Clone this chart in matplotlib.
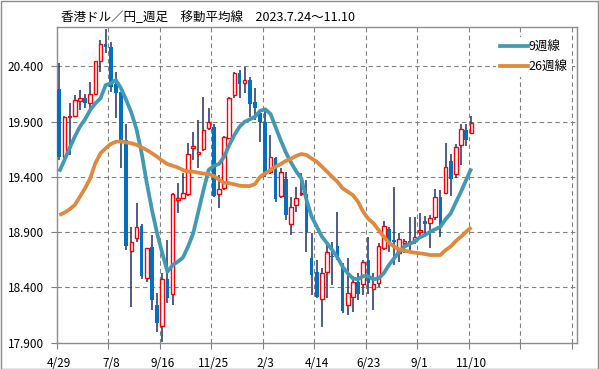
import numpy as np
import matplotlib
matplotlib.use("Agg")
import matplotlib.pyplot as plt
from matplotlib.lines import Line2D
from matplotlib.patches import Rectangle

plt.rcParams['font.family'] = ['Noto Sans CJK JP', 'DejaVu Sans']

#%% weekly candles, HKD/JPY
opens = [20.195, 19.577, 19.94, 19.953, 20.09, 20.11, 20.065, 20.15, 20.45, 20.602,
         20.577, 20.24, 20.17, 19.73, 18.727, 18.844, 18.955, 18.483, 18.763, 18.241,
         18.051, 18.48, 18.338, 19.19, 19.212, 19.245, 19.665, 19.604, 19.649, 19.839,
         19.854, 19.245, 19.297, 19.749, 20.14, 20.337, 20.246, 20.273, 20.077, 19.98,
         19.899, 19.441, 19.567, 19.227, 19.378, 18.974, 19.145, 19.245, 19.245, 18.663,
         18.542, 18.293, 18.537, 18.685, 18.775, 18.587, 18.238, 18.311, 18.446, 18.431,
         18.648, 18.383, 18.437, 18.757, 18.926, 18.83, 18.709, 18.805, 18.82, 18.817,
         18.899, 19.0, 18.98, 19.04, 19.22, 19.251, 19.543, 19.426, 19.688, 19.824,
         19.794]
highs = [20.43, 19.95, 20.065, 20.14, 20.19, 20.15, 20.26, 20.45, 20.638, 20.735,
         20.62, 20.35, 20.17, 19.875, 18.95, 19.16, 18.97, 18.76, 18.874, 18.347,
         18.528, 18.829, 19.25, 19.342, 19.432, 19.704, 19.809, 19.914, 20.125, 20.02,
         19.88, 19.42, 19.77, 20.12, 20.351, 20.367, 20.397, 20.306, 20.2, 20.0,
         20.005, 19.779, 19.58, 19.477, 19.447, 19.22, 19.311, 19.438, 19.372, 18.89,
         18.648, 18.573, 18.799, 18.814, 19.08, 18.62, 18.663, 18.5, 18.53, 18.648,
         18.853, 18.53, 18.8, 19.003, 18.95, 19.311, 18.89, 18.84, 19.04, 19.04,
         19.076, 19.05, 19.055, 19.287, 19.28, 19.704, 19.604, 19.70, 19.878, 19.878,
         19.95]
lows = [19.55, 19.57, 19.60, 19.95, 20.005, 20.02, 20.005, 20.14, 20.35, 20.518,
        20.17, 19.93, 19.477, 18.74, 18.225, 18.81, 18.48, 18.45, 18.196, 17.999,
        17.91, 18.256, 18.24, 19.07, 19.2, 19.226, 19.553, 19.477, 19.637, 19.824,
        19.22, 19.116, 19.28, 19.749, 20.11, 20.11, 20.156, 19.944, 19.914, 19.718,
        19.4, 19.43, 19.175, 19.21, 19.01, 18.874, 19.085, 19.226, 18.723, 18.331,
        18.30, 18.045, 18.30, 18.422, 18.65, 18.166, 18.151, 18.18, 18.29, 18.33,
        18.34, 18.196, 18.40, 18.74, 18.72, 18.602, 18.633, 18.71, 18.74, 18.79,
        18.84, 18.86, 18.754, 19.01, 18.859, 19.25, 19.23, 19.39, 19.507, 19.679,
        19.79]
closes = [19.577, 19.944, 19.955, 20.092, 20.11, 20.065, 20.15, 20.445, 20.60, 20.577,
          20.21, 20.161, 19.727, 18.775, 18.808, 18.949, 18.503, 18.754, 18.286, 18.075,
          18.473, 18.302, 19.245, 19.205, 19.251, 19.604, 19.68, 19.625, 19.824, 19.896,
          19.23, 19.287, 19.763, 20.11, 20.342, 20.24, 20.273, 20.056, 20.02, 19.899,
          19.417, 19.577, 19.2, 19.441, 19.055, 19.13, 19.212, 19.257, 18.899, 18.512,
          18.311, 18.528, 18.718, 18.673, 18.678, 18.19, 18.352, 18.452, 18.338, 18.627,
          18.443, 18.428, 18.777, 18.958, 18.805, 18.81, 18.835, 18.82, 18.80, 18.859,
          18.92, 18.971, 19.025, 19.22, 18.944, 19.486, 19.378, 19.673, 19.83, 19.733,
          19.89]

# moving averages as drawn (earlier history not available)
ma9 = [19.447, 19.552, 19.658, 19.763, 19.854, 19.92, 20.005, 20.065, 20.11, 20.23,
       20.246, 20.276, 20.2, 20.095, 19.98, 19.83, 19.613, 19.342, 19.1, 18.889,
       18.709, 18.542, 18.602, 18.633, 18.669, 18.769, 18.889, 19.085, 19.281, 19.462,
       19.5, 19.516, 19.582, 19.688, 19.779, 19.854, 19.899, 19.92, 19.944, 19.998,
       20.011, 19.97, 19.85, 19.73, 19.62, 19.53, 19.45, 19.387, 19.191, 19.04,
       18.95, 18.859, 18.799, 18.738, 18.672, 18.587, 18.528, 18.482, 18.473, 18.503,
       18.5, 18.473, 18.482, 18.528, 18.602, 18.663, 18.723, 18.769, 18.793, 18.814,
       18.853, 18.874, 18.904, 18.926, 18.949, 19.016, 19.07, 19.17, 19.266, 19.372,
       19.477]
ma26 = [19.055, 19.076, 19.107, 19.145, 19.22, 19.297, 19.387, 19.523, 19.613, 19.658,
        19.697, 19.718, 19.72, 19.712, 19.704, 19.69, 19.667, 19.643, 19.613, 19.582,
        19.546, 19.516, 19.501, 19.486, 19.462, 19.447, 19.447, 19.438, 19.43, 19.426,
        19.408, 19.375, 19.347, 19.342, 19.333, 19.32, 19.317, 19.317, 19.335, 19.401,
        19.432, 19.462, 19.492, 19.516, 19.545, 19.565, 19.59, 19.607, 19.598, 19.567,
        19.537, 19.492, 19.447, 19.4, 19.356, 19.297, 19.266, 19.236, 19.175, 19.085,
        19.02, 18.98, 18.919, 18.859, 18.805, 18.769, 18.745, 18.733, 18.723, 18.714,
        18.709, 18.702, 18.693, 18.693, 18.693, 18.738, 18.77, 18.82, 18.859, 18.904,
        18.944]

date_labels = ["4/29", "7/8", "9/16", "11/25", "2/3", "4/14", "6/23", "9/1", "11/10"]
y_ticks = [17.9, 18.4, 18.9, 19.4, 19.9, 20.4]

title = "香港ドル／円_週足　移動平均線　2023.7.24～11.10"

#%%
o = np.array(opens)
h = np.array(highs)
l = np.array(lows)
c = np.array(closes)
x = np.arange(len(c))
up = c >= o

fig = plt.figure(figsize=(5.99, 3.69), dpi=100)
ax = fig.add_axes([56.7 / 599, 1 - 342.7 / 369, (576.9 - 56.7) / 599, (342.7 - 27.3) / 369])

grid_col = "#808080"
for yv in y_ticks[1:]:
    ax.axhline(yv, color=grid_col, lw=0.8, ls=(0, (4, 3)), zorder=1)
for k in range(1, 11):
    ax.axvline(10 * k - 0.5, color=grid_col, lw=0.8, ls=(0, (4, 3)), zorder=1)

# wicks, then bodies
ax.vlines(x, l, h, color="#1f2f6b", lw=1.1, zorder=2)
bw = 0.7
ax.bar(x[~up], (o - c)[~up], bottom=c[~up], width=bw, color="#0070c0", lw=0, zorder=3)
ax.bar(x[up], np.maximum((c - o)[up], 0.008), bottom=o[up], width=bw,
       facecolor="white", edgecolor="#ff0000", lw=1.0, zorder=3)

ax.plot(x, ma9, color="#4299b3", lw=2.7, zorder=4, solid_capstyle="butt")
ax.plot(x, ma26, color="#e0893d", lw=2.7, zorder=4, solid_capstyle="butt")

ax.set_xlim(-0.5, 100.5)
ax.set_ylim(17.9, 20.753)

ax.set_yticks(y_ticks)
ax.set_yticklabels([f"{v:.3f}" for v in y_ticks])
ax.set_xticks([10 * k - 0.5 for k in range(0, 11)])
ax.set_xticklabels([])
ax.set_xticks([10 * k for k in range(len(date_labels))], minor=True)
ax.set_xticklabels(date_labels, minor=True)
ax.tick_params(axis="x", which="major", length=4, color=grid_col, width=0.8)
ax.tick_params(axis="x", which="minor", length=0, pad=10, labelsize=8.5)
ax.tick_params(axis="y", length=4, color=grid_col, width=0.8, pad=5, labelsize=8.5)
for s in ax.spines.values():
    s.set_color("#8c8c8c")
    s.set_linewidth(1)

handles = [Line2D([], [], color="#4299b3", lw=2.7),
           Line2D([], [], color="#e0893d", lw=2.7)]
leg = ax.legend(handles, ["9週線", "26週線"], loc="upper left", bbox_to_anchor=(0.845, 0.97),
                frameon=True, fontsize=9, handlelength=2.2, handletextpad=0.1,
                borderpad=0.3, borderaxespad=0, labelspacing=0.55)
leg.get_frame().set_facecolor("white")
leg.get_frame().set_edgecolor("none")
leg.get_frame().set_alpha(1)
leg.set_zorder(5)

fig.text(61 / 599, 1 - 18 / 369, title, fontsize=9, ha="left", va="center")

fig.patches.append(Rectangle((0.001, 0.001), 0.997, 0.997, transform=fig.transFigure,
                             fill=False, edgecolor="#8c8c8c", lw=1))

plt.savefig("out.png", dpi=100)
